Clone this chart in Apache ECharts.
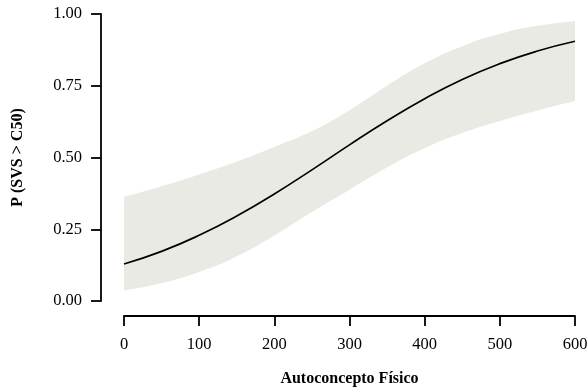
<!DOCTYPE html>
<html>
<head>
<meta charset="utf-8">
<script src="https://cdn.jsdelivr.net/npm/echarts@6/dist/echarts.min.js"></script>
<style>html,body{margin:0;padding:0;background:#fff}#c{width:588px;height:389px}</style>
</head>
<body>
<div id="c"></div>
<script>
var xs    = [0, 50, 100, 150, 200, 250, 300, 350, 400, 450, 500, 550, 600];
var fit   = [0.129, 0.173, 0.229, 0.296, 0.373, 0.457, 0.544, 0.628, 0.705, 0.772, 0.827, 0.871, 0.905];
var lower = [0.037, 0.062, 0.101, 0.155, 0.228, 0.310, 0.388, 0.465, 0.532, 0.585, 0.627, 0.664, 0.697];
var upper = [0.363, 0.400, 0.441, 0.486, 0.537, 0.592, 0.665, 0.750, 0.828, 0.888, 0.931, 0.959, 0.976];
var xTicks = [0, 100, 200, 300, 400, 500, 600];
var yTicks = ['0.00', '0.25', '0.50', '0.75', '1.00'];

var FONT = '"Liberation Serif", "Times New Roman", serif';
var chart = echarts.init(document.getElementById('c'), null, {renderer: 'canvas'});
var axisCommon = {
  axisLine: {show: true, onZero: false, lineStyle: {color: '#000', width: 1.8}},
  axisTick: {show: true, length: 10, lineStyle: {color: '#000', width: 1.8}},
  splitLine: {show: false},
  nameLocation: 'middle',
  nameTextStyle: {fontFamily: FONT, fontSize: 16, fontWeight: 'bold', color: '#000'}
};
function pairs(arr) { return xs.map(function (x, i) { return [x, arr[i]]; }); }
chart.setOption({
  animation: false,
  backgroundColor: '#fff',
  grid: {left: 124, right: 13, top: 14, bottom: 88, containLabel: false, outerBoundsMode: 'none'},
  xAxis: Object.assign({}, axisCommon, {
    type: 'value', min: 0, max: 600, interval: 100, offset: 15,
    name: 'Autoconcepto Físico', nameGap: 55,
    axisLabel: {fontFamily: FONT, fontSize: 16.5, color: '#000', margin: 20,
      formatter: function (v) { return xTicks.indexOf(v) >= 0 ? String(v) : ''; }}
  }),
  yAxis: Object.assign({}, axisCommon, {
    type: 'value', min: 0, max: 1, interval: 0.25, offset: 23,
    name: 'P (SVS > C50)', nameGap: 75,
    axisLabel: {fontFamily: FONT, fontSize: 16.5, color: '#000', margin: 19,
      formatter: function (v) { return yTicks[Math.round(v / 0.25)]; }}
  }),
  series: [
    {type: 'line', symbol: 'none', smooth: true, silent: true,
     lineStyle: {opacity: 0}, areaStyle: {color: '#EAEAE5', opacity: 1, origin: 'start'},
     data: pairs(upper)},
    {type: 'line', symbol: 'none', smooth: true, silent: true,
     lineStyle: {opacity: 0}, areaStyle: {color: '#FFFFFF', opacity: 1, origin: 'start'},
     data: pairs(lower)},
    {type: 'line', symbol: 'none', smooth: true,
     lineStyle: {color: '#000', width: 1.7},
     data: pairs(fit)}
  ]
});
</script>
</body>
</html>
